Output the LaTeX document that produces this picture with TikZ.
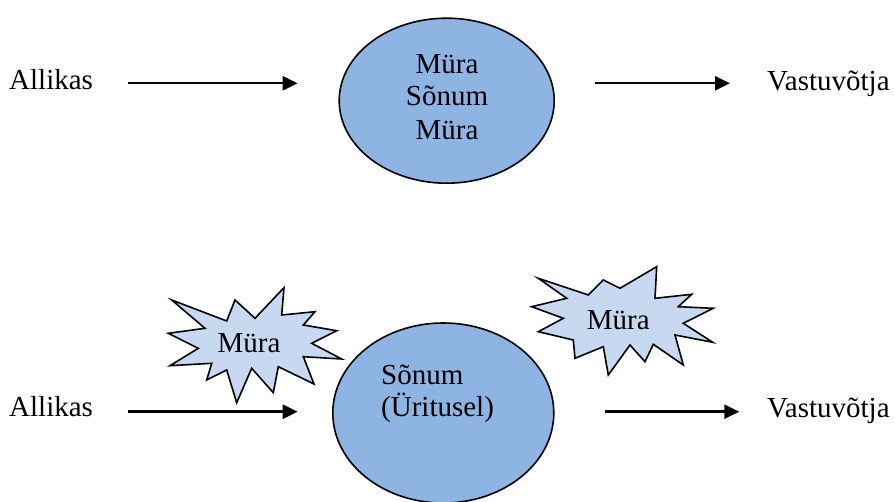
\documentclass[tikz,border=0pt]{standalone}
\usepackage{fontspec}
\setmainfont{Liberation Serif}
\usetikzlibrary{shapes.geometric,arrows.meta}

\definecolor{ovalblue}{HTML}{8EB4E3}
\definecolor{burstblue}{HTML}{C6D9F1}

\tikzset{
  txt/.style={font=\fontsize{29}{33}\selectfont, inner sep=0pt},
  oval/.style={ellipse, draw=black, line width=1.6pt, fill=ovalblue, inner sep=0pt},
  burst/.style={draw=black, line width=1.6pt, fill=burstblue, line join=miter},
  flow/.style={line width=2.4pt, -{Triangle[length=15pt,width=14pt]}},
}

\begin{document}
\begin{tikzpicture}[x=1pt, y=-1pt]
  \useasboundingbox (0,0) rectangle (895,502);

  % ---------- upper model ----------
  \node[oval, minimum width=215pt, minimum height=165pt] (ovalA) at (446.7,100.7) {};
  \node[txt, anchor=base] (muraA) at (447,74) {Müra};
  \node[txt, anchor=base] (sonumA) at (447,106) {Sõnum};
  \node[txt, anchor=base] (muraB) at (447,140) {Müra};

  \node[txt, anchor=base west] (srcA) at (9,90) {Allikas};
  \node[txt, anchor=base west] (dstA) at (767,90.5) {Vastuvõtja};

  \coordinate (a1) at (127.7,83.3);
  \coordinate (a2) at (297.7,83.3);
  \coordinate (a3) at (595,83.3);
  \coordinate (a4) at (730,83.3);
  \draw[flow] (a1) -- (a2);
  \draw[flow] (a3) -- (a4);

  % ---------- lower model ----------
  \node[oval, minimum width=221pt, minimum height=180pt] (ovalB) at (443.3,413) {};
  \node[txt, anchor=base west] (sonumB) at (381,385) {Sõnum};
  \node[txt, anchor=base west] (eventB) at (381,416.7) {(Üritusel)};

  \node[txt, anchor=base west] (srcB) at (9,416.7) {Allikas};
  \node[txt, anchor=base west] (dstB) at (767,417.3) {Vastuvõtja};

  \coordinate (b1) at (127.7,411.7);
  \coordinate (b2) at (297.7,411.7);
  \coordinate (b3) at (605,411.7);
  \coordinate (b4) at (739.3,411.7);
  \draw[flow] (b1) -- (b2);
  \draw[flow] (b3) -- (b4);

  % noise bursts
  \draw[burst] (171.7,300) -- (226.7,321) -- (235,300) -- (255,318.3) -- (284,287.7)
    -- (281.7,315) -- (315,311.7) -- (303.3,325) -- (336.7,330.7) -- (311.7,343.3)
    -- (341.7,359) -- (303.3,356.7) -- (314,384) -- (278.3,366.7) -- (273.3,392.7)
    -- (251.7,368.3) -- (236.7,402.7) -- (226.7,370) -- (206.7,380) -- (211.7,363.3)
    -- (170,365.7) -- (198.3,348.3) -- (168.3,333.3) -- (205,328.3) -- cycle;
  \node[txt, anchor=base] (noiseL) at (249,352.7) {Müra};

  \draw[burst] (538.3,278.3) -- (588.3,295) -- (603.3,280) -- (620,288.3) -- (656.7,266.7)
    -- (655,298.3) -- (691.7,294.3) -- (678.3,306.7) -- (713.3,308.3) -- (683.3,323.3)
    -- (712.7,342.3) -- (675,335) -- (683.3,365) -- (653.3,344.3) -- (645,361.7)
    -- (630,345) -- (608.3,375) -- (603.3,346.7) -- (575,358.3) -- (573.3,340)
    -- (538.3,331.7) -- (563.3,318.3) -- (531.7,306.7) -- (566.7,298.3) -- cycle;
  \node[txt, anchor=base] (noiseR) at (618.3,330) {Müra};
\end{tikzpicture}
\end{document}
